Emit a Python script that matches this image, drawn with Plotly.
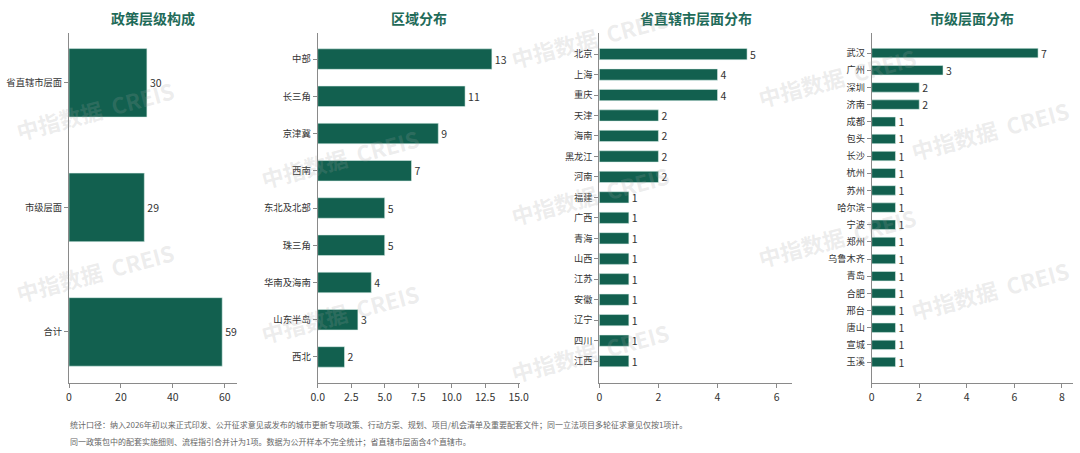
import plotly.graph_objects as go

# ---- data ----
level_cats = ["省直辖市层面", "市级层面", "合计"]
level_vals = [30, 29, 59]

region_cats = ["中部", "长三角", "京津冀", "西南", "东北及北部", "珠三角", "华南及海南", "山东半岛", "西北"]
region_vals = [13, 11, 9, 7, 5, 5, 4, 3, 2]

prov_cats = ["北京", "上海", "重庆", "天津", "海南", "黑龙江", "河南", "福建", "广西", "青海",
             "山西", "江苏", "安徽", "辽宁", "四川", "江西"]
prov_vals = [5, 4, 4, 2, 2, 2, 2, 1, 1, 1, 1, 1, 1, 1, 1, 1]

city_cats = ["武汉", "广州", "深圳", "济南", "成都", "包头", "长沙", "杭州", "苏州", "哈尔滨",
             "宁波", "郑州", "乌鲁木齐", "青岛", "合肥", "邢台", "唐山", "宣城", "玉溪"]
city_vals = [7, 3, 2, 2, 1, 1, 1, 1, 1, 1, 1, 1, 1, 1, 1, 1, 1, 1, 1]

titles = ["政策层级构成", "区域分布", "省直辖市层面分布", "市级层面分布"]
footnote1 = "统计口径：纳入2026年初以来正式印发、公开征求意见或发布的城市更新专项政策、行动方案、规划、项目/机会清单及重要配套文件；同一立法项目多轮征求意见仅按1项计。"
footnote2 = "同一政策包中的配套实施细则、流程指引合并计为1项。数据为公开样本不完全统计；省直辖市层面含4个直辖市。"
watermark = "中指数据  CREIS"

# ---- style ----
W, H = 1080, 453
BAR = "#12604f"
TITLE_C = "#1f6b59"
FONT = "Noto Sans CJK SC, DejaVu Sans, sans-serif"
AX_C = "#8a8a8a"

panels = [
    dict(cats=level_cats, vals=level_vals, px=(69, 237), xr=[0, 64.7], dtick=20, fmt="d", yr=(0.40, 0.41), fs=9.3),
    dict(cats=region_cats, vals=region_vals, px=(317.7, 520), xr=[0, 15.1], dtick=2.5, fmt=".1f", yr=(0.70, 0.70), fs=9.4),
    dict(cats=prov_cats, vals=prov_vals, px=(599.3, 791.7), xr=[0, 6.51], dtick=2, fmt="d", yr=(1.03, 1.07), fs=9.2),
    dict(cats=city_cats, vals=city_vals, px=(871.7, 1073), xr=[0, 8.47], dtick=2, fmt="d", yr=(1.17, 1.22), fs=9.2),
]

Y_TOP, Y_BOT = 33, 383
ydom = [1 - Y_BOT / H, 1 - Y_TOP / H]

fig = go.Figure()
layout = dict(
    width=W, height=H,
    margin=dict(l=0, r=0, t=0, b=0, autoexpand=False),
    paper_bgcolor="white", plot_bgcolor="white",
    showlegend=False,
    font=dict(family=FONT, size=10, color="#333333"),
)
annotations = []

for i, p in enumerate(panels):
    n = i + 1
    xa = "x" if n == 1 else f"x{n}"
    ya = "y" if n == 1 else f"y{n}"
    fig.add_trace(go.Bar(
        x=p["vals"], y=p["cats"], orientation="h",
        xaxis=xa, yaxis=ya,
        width=0.55,
        marker=dict(color=BAR, line=dict(color="rgba(220,240,235,0.9)", width=0.6)),
        text=[str(v) for v in p["vals"]],
        textposition="outside", cliponaxis=False, constraintext="none",
        textfont=dict(size=10.5, color="#333333", family=FONT),
        hoverinfo="skip",
    ))
    xd = [p["px"][0] / W, p["px"][1] / W]
    ncat = len(p["cats"])
    layout["xaxis" if n == 1 else f"xaxis{n}"] = dict(
        domain=xd, anchor=ya, range=p["xr"], dtick=p["dtick"], tick0=0,
        tickformat=p["fmt"], showgrid=False, zeroline=False,
        showline=True, linecolor=AX_C, linewidth=1,
        ticks="outside", ticklen=4, tickcolor=AX_C,
        tickfont=dict(size=10.5, color="#333333"),
        automargin=False, fixedrange=True,
    )
    layout["yaxis" if n == 1 else f"yaxis{n}"] = dict(
        domain=ydom, anchor=xa, type="category",
        categoryorder="array", categoryarray=p["cats"],
        range=[ncat - 1 + p["yr"][1], -p["yr"][0]],
        showgrid=False, zeroline=False,
        showline=True, linecolor=AX_C, linewidth=1,
        ticks="outside", ticklen=4, tickcolor=AX_C,
        tickfont=dict(size=p["fs"], color="#333333"),
        automargin=False, fixedrange=True,
    )
    annotations.append(dict(
        text=f"<b>{titles[i]}</b>", xref="paper", yref="paper",
        x=(xd[0] + xd[1]) / 2, y=1 - 18 / H, xanchor="center", yanchor="middle",
        showarrow=False, font=dict(size=14, color=TITLE_C, family=FONT),
    ))

annotations.append(dict(
    text=footnote1, xref="paper", yref="paper", x=68 / W, y=1 - 424 / H,
    xanchor="left", yanchor="middle", showarrow=False,
    font=dict(size=8, color="#666666", family=FONT),
))
annotations.append(dict(
    text=footnote2, xref="paper", yref="paper", x=68 / W, y=1 - 441 / H,
    xanchor="left", yanchor="middle", showarrow=False,
    font=dict(size=8, color="#666666", family=FONT),
))

# watermark (semi-transparent, only the copies fully inside the picture)
wm_pos = [(95, 110), (95, 272), (340, 158), (340, 313), (590, 38), (590, 195), (590, 352),
          (837, 77), (837, 237), (990, 130), (990, 290)]
for cx, cy in wm_pos:
    annotations.append(dict(
        text=f"<b>{watermark}</b>", xref="paper", yref="paper",
        x=cx / W, y=1 - cy / H, xanchor="center", yanchor="middle",
        showarrow=False, textangle=-15,
        font=dict(size=22, color="rgba(160,160,160,0.20)", family=FONT),
    ))

layout["annotations"] = annotations
fig.update_layout(**layout)
fig.write_html("out.html")
